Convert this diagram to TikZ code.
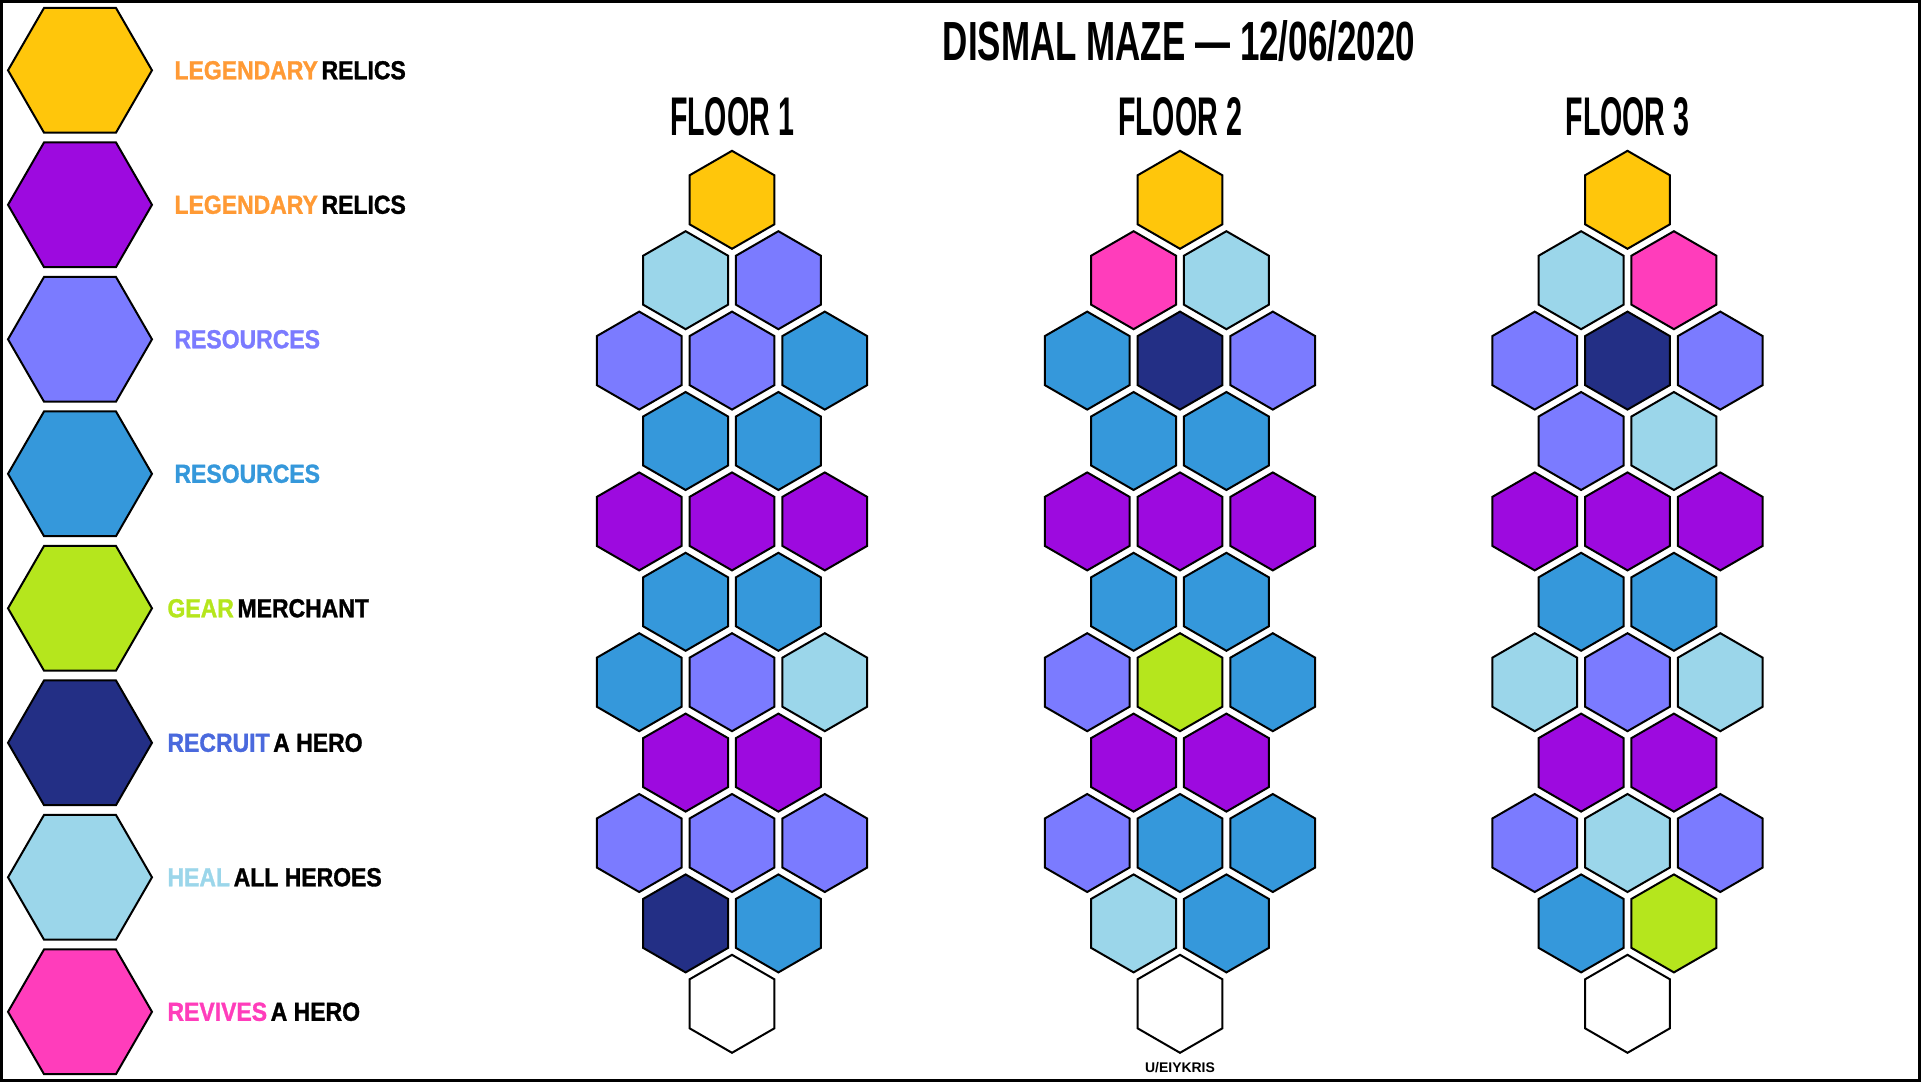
\documentclass[tikz,border=0pt]{standalone}
\usepackage{fontspec}
\setmainfont{Liberation Sans}
\newfontfamily\titlefont[FakeStretch=0.634]{Liberation Sans}
\newfontfamily\floorfont[FakeStretch=0.525]{Liberation Sans}
\newfontfamily\keyfont[FakeStretch=0.88, FakeBold=1.2]{Liberation Sans}
\usepackage{tikz}
\usetikzlibrary{positioning, shapes.geometric}
\usepackage{xcolor}
\definecolor{mGold}{HTML}{FFC60B}
\definecolor{mPurple}{HTML}{9D0ADF}
\definecolor{mViolet}{HTML}{7B7BFF}
\definecolor{mAzure}{HTML}{3598DB}
\definecolor{mLime}{HTML}{B5E61D}
\definecolor{mIndigo}{HTML}{232F85}
\definecolor{mSky}{HTML}{9BD6EA}
\definecolor{mPink}{HTML}{FF3DBB}
\definecolor{mOrange}{HTML}{FF9A35}
\definecolor{mRoyal}{HTML}{4A69DD}

% one floor: name, centre x, rows as  row/{colours}
\newcommand{\mazefloor}[3]{%
  \foreach \row/\cols in {#3} {
    \pgfmathtruncatemacro\ncell{(\row==0 || \row==10) ? 1 : (mod(\row,2)==1 ? 2 : 3)}
    \foreach \hue [count=\col] in \cols
      \node[cell, fill=\hue] (#1-\row-\col) at ({#2+(\col-(\ncell+1)/2)*92.8}, {199.8+\row*80.4}) {};
  }}

\begin{document}
\begin{tikzpicture}[x=0.02cm, y=-0.02cm,
    cell/.style={regular polygon, regular polygon sides=6, shape border rotate=30,
      minimum size=1.96cm, inner sep=0pt, draw=black, line width=1.14pt},
    keyhex/.style={regular polygon, regular polygon sides=6,
      minimum size=2.88cm, inner sep=0pt, draw=black, line width=1.14pt},
    keytext/.style={font=\keyfont\bfseries\fontsize{14.86}{16}\selectfont, inner sep=0pt},
    floorlabel/.style={font=\floorfont\bfseries\fontsize{31}{32}\selectfont, inner sep=0pt}]
  \useasboundingbox (0,0) rectangle (1921,1082);
  \draw[line width=1.71pt] (1.5,1.5) rectangle (1919.5,1080.5);

  % legend
  \foreach \idx/\hc/\wc/\word/\rest/\gap in {
      1/mGold/mOrange/LEGENDARY/RELICS/0.42cm,
      2/mPurple/mOrange/LEGENDARY/RELICS/0.42cm,
      3/mViolet/mViolet/RESOURCES//0.42cm,
      4/mAzure/mAzure/RESOURCES//0.42cm,
      5/mLime/mLime/GEAR/MERCHANT/0.28cm,
      6/mIndigo/mRoyal/RECRUIT/A HERO/0.28cm,
      7/mSky/mSky/HEAL/ALL HEROES/0.28cm,
      8/mPink/mPink/REVIVES/A HERO/0.28cm} {
    \node[keyhex, fill=\hc] (key\idx) at (80, {70.3+(\idx-1)*134.5}) {};
    \node[keytext, right=\gap of key\idx] (lab\idx) {\textcolor{\wc}{\word}\hspace{0.14em}\rest};
  }

  % title
  \node[font=\titlefont\bfseries\fontsize{31.4}{32}\selectfont, inner sep=0pt]
    (title) at (1179, 41.3) {DISMAL MAZE — 12/06/2020};

  % floors
  \mazefloor{f1}{732}{0/{mGold}, 1/{mSky,mViolet}, 2/{mViolet,mViolet,mAzure},
    3/{mAzure,mAzure}, 4/{mPurple,mPurple,mPurple}, 5/{mAzure,mAzure},
    6/{mAzure,mViolet,mSky}, 7/{mPurple,mPurple}, 8/{mViolet,mViolet,mViolet},
    9/{mIndigo,mAzure}, 10/{white}}
  \mazefloor{f2}{1180}{0/{mGold}, 1/{mPink,mSky}, 2/{mAzure,mIndigo,mViolet},
    3/{mAzure,mAzure}, 4/{mPurple,mPurple,mPurple}, 5/{mAzure,mAzure},
    6/{mViolet,mLime,mAzure}, 7/{mPurple,mPurple}, 8/{mViolet,mAzure,mAzure},
    9/{mSky,mAzure}, 10/{white}}
  \mazefloor{f3}{1627.5}{0/{mGold}, 1/{mSky,mPink}, 2/{mViolet,mIndigo,mViolet},
    3/{mViolet,mSky}, 4/{mPurple,mPurple,mPurple}, 5/{mAzure,mAzure},
    6/{mSky,mViolet,mSky}, 7/{mPurple,mPurple}, 8/{mViolet,mSky,mViolet},
    9/{mAzure,mLime}, 10/{white}}

  \node[floorlabel, above=0.26cm of f1-0-1] (floor1) {FLOOR 1};
  \node[floorlabel, above=0.26cm of f2-0-1] (floor2) {FLOOR 2};
  \node[floorlabel, above=0.26cm of f3-0-1] (floor3) {FLOOR 3};

  \node[font=\bfseries\fontsize{7.95}{9}\selectfont, inner sep=0pt,
    below=0.17cm of f2-10-1] (credit) {U/EIYKRIS};
\end{tikzpicture}
\end{document}
